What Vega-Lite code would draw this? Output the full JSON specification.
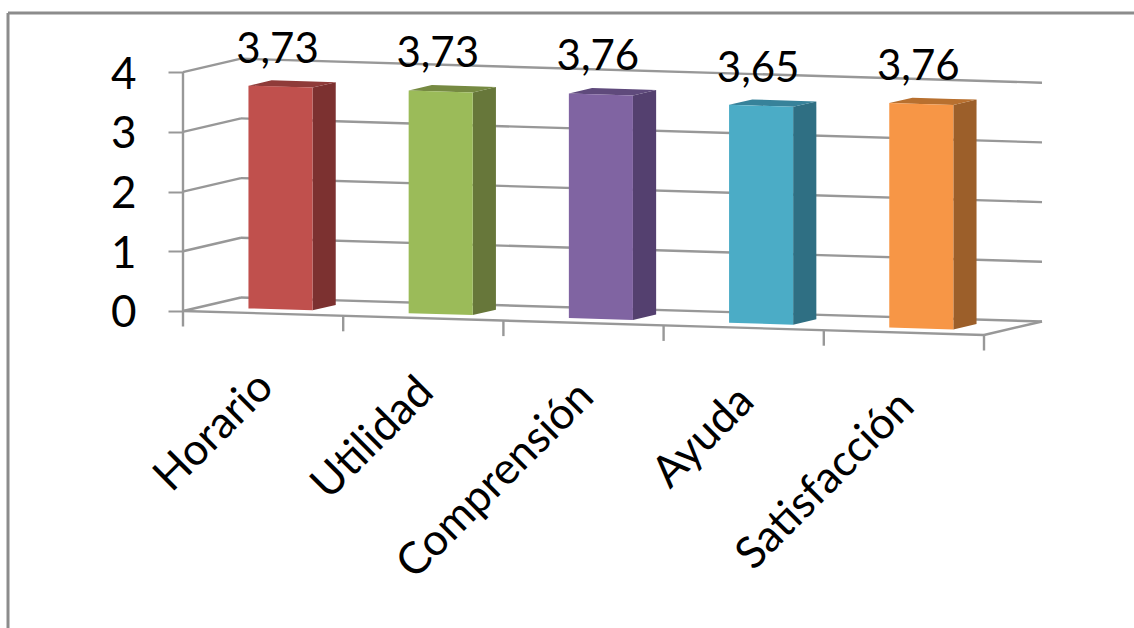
{
"$schema":"https://vega.github.io/schema/vega-lite/v6.json",
"width":1134,"height":628,"padding":0,"autosize":{"type":"none"},
"background":"#ffffff",
"config":{"view":{"stroke":null},"text":{"font":"Lato"},"axis":{"labelFont":"Lato"}},
"datasets":{
"barras":[
{"categoria":"Horario","valor":3.73,"orden":0},
{"categoria":"Utilidad","valor":3.73,"orden":1},
{"categoria":"Comprensión","valor":3.76,"orden":2},
{"categoria":"Ayuda","valor":3.65,"orden":3},
{"categoria":"Satisfacción","valor":3.76,"orden":4}],
"niveles":[{"nivel":0},{"nivel":1},{"nivel":2},{"nivel":3},{"nivel":4}],
"marcas":[{"marca":0},{"marca":1},{"marca":2},{"marca":3},{"marca":4},{"marca":5}],
"unico":[{"uno":1}]
},
"encoding":{
"x":{"field":"X","type":"quantitative","axis":null,"scale":{"domain":[-1.1423,5.9363],"nice":false,"zero":false}},
"y":{"field":"Y","type":"quantitative","scale":{"domain":[-5.31,5.209],"nice":false,"zero":false},
"axis":{"title":null,"values":[0,1,2,3,4],"format":"d","offset":-183,"domain":false,"grid":false,"tickSize":15,"tickWidth":2,"tickColor":"#989898","labelFontSize":44,"labelOffset":3,"labelColor":"#000000","labelPadding":32,"labelFont":"Lato"}}
},
"resolve":{"scale":{"color":"independent"}},
"layer":[
{"data":{"name":"unico"},
"transform":[{"calculate":"-1.0923","as":"X"},{"calculate":"4.99","as":"Y"},{"calculate":"-1.0923","as":"X2"},{"calculate":"-5.31","as":"Y2"}],
"mark":{"type":"rule","color":"#8c8c8c","strokeWidth":3},
"encoding":{"x2":{"field":"X2"},"y2":{"field":"Y2"}}},
{"data":{"name":"unico"},
"transform":[{"calculate":"-1.0923","as":"X"},{"calculate":"4.99","as":"Y"},{"calculate":"5.9363","as":"X2"},{"calculate":"4.99","as":"Y2"}],
"mark":{"type":"rule","color":"#8c8c8c","strokeWidth":3},
"encoding":{"x2":{"field":"X2"},"y2":{"field":"Y2"}}},
{"data":{"name":"niveles"},
"transform":[{"calculate":"0","as":"X"},{"calculate":"datum.nivel","as":"Y"},{"calculate":"0.362","as":"X2"},{"calculate":"datum.nivel+0.226","as":"Y2"}],
"mark":{"type":"rule","color":"#989898","strokeWidth":2.4},
"encoding":{"x2":{"field":"X2"},"y2":{"field":"Y2"}}},
{"data":{"name":"niveles"},
"transform":[{"calculate":"0.362","as":"X"},{"calculate":"datum.nivel+0.226","as":"Y"},{"calculate":"5.362","as":"X2"},{"calculate":"datum.nivel+0.226-0.402","as":"Y2"}],
"mark":{"type":"rule","color":"#989898","strokeWidth":2.4},
"encoding":{"x2":{"field":"X2"},"y2":{"field":"Y2"}}},
{"data":{"name":"unico"},
"transform":[{"calculate":"0","as":"X"},{"calculate":"0","as":"Y"},{"calculate":"0","as":"X2"},{"calculate":"4","as":"Y2"}],
"mark":{"type":"rule","color":"#989898","strokeWidth":2.4},
"encoding":{"x2":{"field":"X2"},"y2":{"field":"Y2"}}},
{"data":{"name":"unico"},
"transform":[{"calculate":"0","as":"X"},{"calculate":"0","as":"Y"},{"calculate":"5","as":"X2"},{"calculate":"-0.402","as":"Y2"}],
"mark":{"type":"rule","color":"#989898","strokeWidth":2.4},
"encoding":{"x2":{"field":"X2"},"y2":{"field":"Y2"}}},
{"data":{"name":"unico"},
"transform":[{"calculate":"5","as":"X"},{"calculate":"-0.402","as":"Y"},{"calculate":"5.362","as":"X2"},{"calculate":"-0.176","as":"Y2"}],
"mark":{"type":"rule","color":"#989898","strokeWidth":2.4},
"encoding":{"x2":{"field":"X2"},"y2":{"field":"Y2"}}},
{"data":{"name":"marcas"},
"transform":[{"calculate":"datum.marca","as":"X"},{"calculate":"-0.0804*datum.marca","as":"Y"},{"calculate":"datum.marca","as":"X2"},{"calculate":"-0.0804*datum.marca-0.26","as":"Y2"}],
"mark":{"type":"rule","color":"#989898","strokeWidth":2.4},
"encoding":{"x2":{"field":"X2"},"y2":{"field":"Y2"}}},
{"data":{"name":"barras"},
"transform":[{"calculate":"[0,1]","as":"t"},{"flatten":["t"]},
{"calculate":"datum.orden+0.7+0.362*(0.3+0.4*datum.t)","as":"X"},
{"calculate":"-0.0804*(datum.orden+0.7)+0.226*(0.3+0.4*datum.t)","as":"base"},
{"calculate":"datum.base+datum.valor","as":"Y"}],
"mark":{"type":"area","orient":"vertical","opacity":1},
"encoding":{"y2":{"field":"base"},"color":{"field":"categoria","type":"nominal","legend":null,"scale":{"domain":["Horario","Utilidad","Comprensión","Ayuda","Satisfacción"],"range":["#7c3130","#67773a","#54406f","#2f6f83","#9c5f2a"]}}}},
{"data":{"name":"barras"},
"transform":[{"calculate":"[0,0.1448,0.4,0.5448]","as":"off"},{"flatten":["off"]},
{"calculate":"datum.orden+0.3+0.1086+datum.off","as":"X"},
{"calculate":"datum.valor-0.0804*(datum.orden+0.3)+0.0678-0.0804*datum.off","as":"frente"},
{"calculate":"datum.frente+0.0904+0.0804*0.1448","as":"fondo"},
{"calculate":"datum.off==0?datum.frente:datum.fondo","as":"Y"},
{"calculate":"datum.off==0.5448?datum.fondo:datum.frente","as":"suelo"}],
"mark":{"type":"area","orient":"vertical","opacity":1},
"encoding":{"y2":{"field":"suelo"},"color":{"field":"categoria","type":"nominal","legend":null,"scale":{"domain":["Horario","Utilidad","Comprensión","Ayuda","Satisfacción"],"range":["#8f3b39","#768a42","#5f4a7c","#37829a","#b8702f"]}}}},
{"data":{"name":"barras"},
"transform":[{"calculate":"[0,1]","as":"t"},{"flatten":["t"]},
{"calculate":"datum.orden+0.3+0.4*datum.t","as":"u"},
{"calculate":"datum.u+0.1086","as":"X"},
{"calculate":"-0.0804*datum.u+0.0678","as":"base"},
{"calculate":"datum.base+datum.valor","as":"Y"}],
"mark":{"type":"area","orient":"vertical","opacity":1},
"encoding":{"y2":{"field":"base"},"color":{"field":"categoria","type":"nominal","legend":null,"scale":{"domain":["Horario","Utilidad","Comprensión","Ayuda","Satisfacción"],"range":["#c0504d","#9bbb59","#8064a2","#4bacc6","#f79646"]}}}},
{"data":{"name":"barras"},
"transform":[{"calculate":"datum.orden+0.5+0.1086","as":"X"},
{"calculate":"datum.valor-0.0804*(datum.orden+0.5)+0.0678","as":"Y"},
{"calculate":"replace(format(datum.valor,'.2f'),'.',',')","as":"rotulo"}],
"mark":{"type":"text","fontSize":42,"align":"center","baseline":"alphabetic","dx":-3,"dy":-24,"color":"#000000","font":"Lato"},
"encoding":{"text":{"field":"rotulo"}}},
{"data":{"name":"barras"},
"transform":[{"calculate":"datum.orden+0.52","as":"X"},
{"calculate":"-0.0804*(datum.orden+0.5)-1.12","as":"Y"}],
"mark":{"type":"text","fontSize":44,"align":"right","baseline":"middle","angle":-45,"color":"#000000","font":"Lato"},
"encoding":{"text":{"field":"categoria"}}}
]
}
